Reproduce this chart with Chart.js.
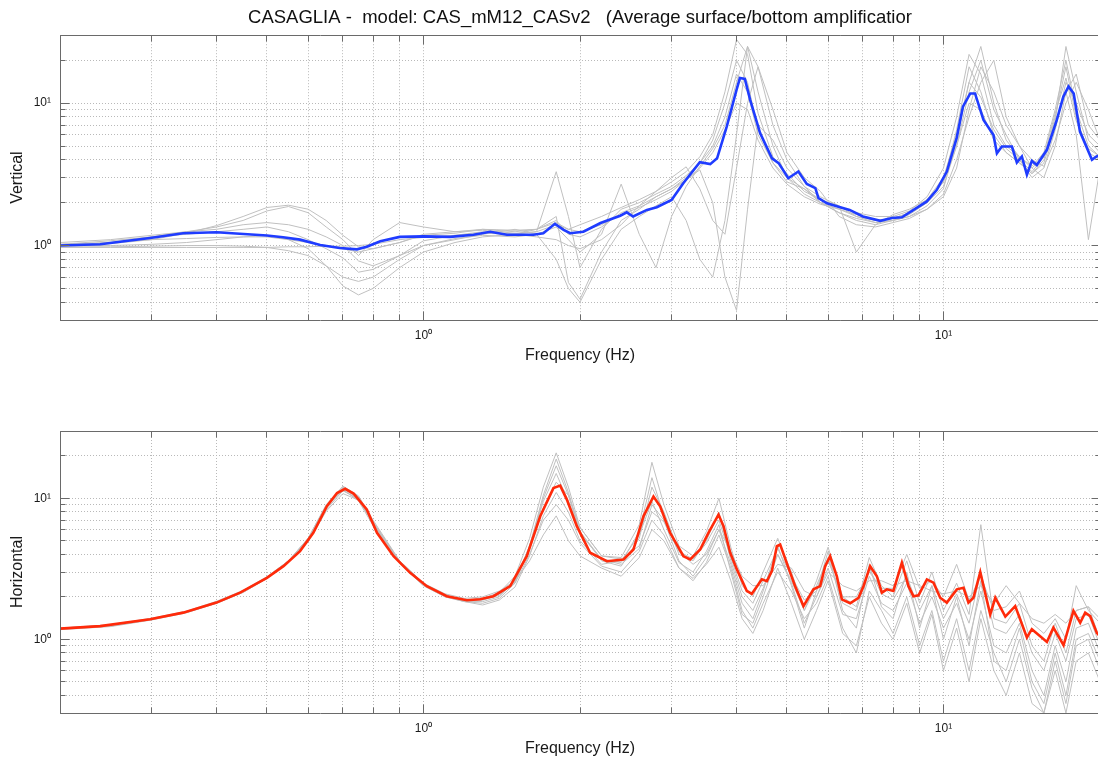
<!DOCTYPE html>
<html>
<head>
<meta charset="utf-8">
<title>CASAGLIA - surface/bottom amplification</title>
<script src="https://cdn.jsdelivr.net/npm/chart.js@4/dist/chart.umd.min.js"></script>
<style>
  html, body { margin: 0; padding: 0; background: #fff; overflow: hidden; }
  .panel { position: absolute; left: 0; }
  #topPanel { top: 0; }
  #bottomPanel { top: 395px; }
</style>
</head>
<body>
<div class="panel" id="topPanel"><canvas id="vertical" width="1102" height="370"></canvas></div>
<div class="panel" id="bottomPanel"><canvas id="horizontal" width="1102" height="368"></canvas></div>
<script>
const chartTitle = 'CASAGLIA -  model: CAS_mM12_CASv2   (Average surface/bottom amplificatior';

// tick labels on the decades
const decadeValues = [1, 10];
const decadeText = ['10\u2070', '10\u00B9'];

/* ------ VERTICAL ------ */

// average vertical amplification
const vertFreq = [0.2, 0.239, 0.298, 0.345, 0.40, 0.50, 0.537, 0.579, 0.633, 0.69, 0.745, 0.778, 0.826, 0.90, 1.0,
    1.126, 1.248, 1.344, 1.447, 1.627, 1.70, 1.79, 1.86, 1.915, 2.03, 2.19, 2.39, 2.46, 2.53, 2.69, 2.81, 3.0, 3.16,
    3.40, 3.56, 3.67, 3.83, 4.0, 4.06, 4.15, 4.25, 4.44, 4.68, 4.82, 5.03, 5.26, 5.46, 5.67, 5.75, 5.97, 6.33, 6.6,
    7.0, 7.56, 7.96, 8.32, 8.76, 9.29, 9.71, 10.15, 10.6, 10.9, 11.26, 11.5, 11.94, 12.48, 12.67, 12.95, 13.54, 13.84,
    14.15, 14.47, 14.79, 15.12, 15.81, 16.52, 17.0, 17.4, 17.8, 18.3, 19.3, 19.7, 20.0];
const vertAvg = [1.0, 1.02, 1.13, 1.22, 1.24, 1.175, 1.145, 1.10, 1.01, 0.96, 0.94, 0.98, 1.07, 1.15, 1.16,
    1.15, 1.19, 1.25, 1.19, 1.19, 1.22, 1.42, 1.29, 1.22, 1.25, 1.44, 1.62, 1.71, 1.60, 1.78, 1.86, 2.09, 2.74,
    3.85, 3.73, 4.1, 6.85, 12.4, 15.0, 14.8, 10.5, 6.16, 4.1, 3.79, 2.97, 3.31, 2.71, 2.53, 2.15, 1.98, 1.86, 1.78,
    1.60, 1.49, 1.56, 1.58, 1.78, 2.04, 2.46, 3.31, 5.68, 9.44, 11.7, 11.7, 7.62, 5.98, 4.45, 4.96, 4.96, 3.83,
    4.22, 3.14, 3.93, 3.68, 4.70, 7.62, 11.1, 13.1, 11.7, 6.31, 4.0, 4.22, 4.3];

// single simulations, all on one frequency axis
const vertSiteFreq = [0.2, 0.25, 0.3, 0.35, 0.4, 0.45, 0.5, 0.55, 0.6, 0.65, 0.7, 0.75, 0.8, 0.9, 1.0, 1.15, 1.3,
    1.5, 1.65, 1.8, 1.9, 2.0, 2.2, 2.4, 2.6, 2.8, 3.0, 3.2, 3.4, 3.6, 3.8, 4.0, 4.2, 4.4, 4.7, 5.0, 5.4, 5.8, 6.3,
    6.8, 7.4, 8.0, 8.6, 9.3, 10.0, 10.6, 11.2, 11.8, 12.5, 13.2, 14.0, 14.8, 15.6, 16.4, 17.2, 18.0, 19.0, 20.0];
const vertSite1 = [1.00, 1.03, 1.10, 1.22, 1.38, 1.60, 1.85, 1.92, 1.80, 1.50, 1.18, 0.98, 0.95, 1.05, 1.18, 1.22,
    1.30, 1.25, 1.30, 1.45, 1.30, 1.40, 1.60, 1.85, 2.10, 2.40, 2.80, 3.30, 4.20, 6.00, 12.0, 28.0, 22.0, 8.50, 4.20,
    3.20, 2.40, 2.10, 1.85, 1.70, 1.60, 1.60, 1.75, 2.20, 3.50, 8.00, 22.0, 16.0, 7.00, 5.00, 4.20, 3.60, 4.50, 9.00,
    20.0, 9.00, 5.00, 4.20];
const vertSite2 = [1.02, 1.05, 1.15, 1.25, 1.35, 1.50, 1.75, 1.88, 1.70, 1.35, 1.10, 0.85, 1.10, 1.45, 1.35, 1.25,
    1.28, 1.22, 1.25, 3.30, 1.60, 0.70, 1.30, 1.80, 2.00, 2.30, 2.60, 3.10, 3.80, 5.50, 10.0, 20.0, 14.0, 6.50, 3.80,
    2.80, 2.50, 2.00, 1.80, 1.65, 1.50, 1.55, 1.70, 2.00, 2.80, 6.50, 18.0, 12.0, 6.00, 4.50, 3.80, 3.20, 4.00, 8.00,
    18.0, 8.00, 4.50, 4.00];
const vertSite3 = [1.00, 1.00, 1.02, 1.05, 1.10, 1.15, 1.18, 1.10, 0.95, 0.72, 0.52, 0.45, 0.50, 0.70, 0.90, 1.05,
    1.15, 1.20, 1.30, 1.60, 0.55, 0.42, 0.90, 1.50, 1.80, 2.20, 2.50, 2.90, 3.40, 2.00, 0.60, 0.35, 1.80, 7.00, 5.50,
    3.50, 2.60, 2.20, 1.90, 1.60, 1.45, 1.50, 1.65, 2.00, 2.60, 5.00, 12.0, 20.0, 9.00, 6.00, 4.00, 3.00, 3.50, 6.50,
    14.0, 10.0, 6.00, 5.00];
const vertSite4 = [0.98, 0.98, 0.99, 1.00, 1.00, 0.99, 0.97, 0.92, 0.85, 0.72, 0.60, 0.56, 0.60, 0.80, 1.00, 1.12,
    1.18, 1.15, 1.20, 1.35, 1.10, 0.90, 1.20, 2.70, 1.20, 0.70, 1.60, 2.60, 3.60, 4.80, 7.00, 14.0, 25.0, 12.0, 5.00,
    3.00, 2.30, 2.00, 1.70, 1.55, 1.45, 1.50, 1.60, 1.90, 2.50, 5.50, 14.0, 25.0, 10.0, 5.50, 4.20, 3.50, 4.20, 7.50,
    25.0, 12.0, 5.50, 4.50];
const vertSite5 = [1.05, 1.10, 1.18, 1.25, 1.30, 1.40, 1.45, 1.40, 1.30, 1.15, 1.00, 0.78, 0.72, 0.85, 1.08, 1.18,
    1.25, 1.20, 1.15, 1.10, 1.00, 0.95, 1.10, 1.40, 1.90, 2.40, 3.00, 3.57, 2.50, 1.50, 1.20, 3.50, 10.0, 18.0, 9.00,
    4.50, 3.00, 2.40, 1.60, 1.40, 1.35, 1.45, 1.55, 1.80, 2.30, 4.00, 8.00, 14.0, 20.0, 8.00, 5.00, 3.50, 3.00, 5.00,
    12.0, 16.0, 7.00, 5.50];
const vertSite6 = [0.97, 0.97, 0.97, 0.97, 0.97, 0.97, 0.97, 0.98, 0.98, 0.99, 0.99, 1.00, 1.02, 1.10, 1.14, 1.18,
    1.22, 1.20, 1.25, 1.40, 1.30, 1.25, 1.40, 1.65, 1.85, 2.10, 2.40, 2.90, 3.50, 4.50, 6.50, 10.0, 9.00, 5.50, 3.50,
    2.70, 2.20, 1.95, 1.80, 1.60, 1.50, 1.55, 1.70, 2.10, 3.00, 6.00, 14.0, 11.0, 6.50, 4.80, 4.00, 3.30, 4.20, 8.50,
    15.0, 7.50, 4.80, 4.20];
const vertSite7 = [1.02, 1.08, 1.15, 1.20, 1.25, 1.30, 1.35, 1.25, 1.10, 0.95, 0.82, 0.65, 0.68, 0.85, 1.00, 1.10,
    1.20, 1.30, 1.20, 0.80, 0.50, 0.40, 0.80, 1.30, 1.60, 1.90, 2.20, 1.50, 0.80, 0.60, 1.50, 6.00, 25.0, 18.0, 7.00,
    4.00, 2.60, 2.00, 1.70, 1.50, 1.40, 1.50, 1.60, 1.80, 2.20, 3.50, 9.00, 18.0, 12.0, 7.00, 5.00, 4.00, 3.60, 5.50,
    10.0, 14.0, 9.00, 5.50];
const vertSite8 = [1.00, 1.05, 1.10, 1.12, 1.14, 1.15, 1.15, 1.10, 1.05, 1.00, 0.95, 0.90, 0.95, 1.05, 1.20, 1.25,
    1.30, 1.28, 1.30, 1.50, 1.20, 1.15, 1.35, 1.70, 1.90, 2.20, 2.50, 3.00, 3.80, 5.00, 8.00, 16.0, 12.0, 6.00, 3.80,
    3.00, 2.50, 2.10, 1.90, 0.90, 1.40, 1.65, 1.80, 2.10, 2.80, 5.00, 10.0, 9.00, 5.50, 4.50, 3.80, 3.20, 3.80, 7.00,
    12.0, 6.00, 1.10, 3.50];

/* ------ HORIZONTAL ------ */

const horFreq = [0.2, 0.239, 0.298, 0.345, 0.40, 0.444, 0.50, 0.538, 0.579, 0.614, 0.652, 0.682, 0.707, 0.734, 0.778,
    0.814, 0.876, 0.943, 1.015, 1.109, 1.212, 1.285, 1.363, 1.468, 1.58, 1.677, 1.778, 1.832, 1.887, 1.972, 2.092,
    2.253, 2.425, 2.534, 2.649, 2.769, 2.852, 2.981, 3.162, 3.258, 3.405, 3.532, 3.693, 3.776, 3.889, 4.006, 4.187,
    4.281, 4.475, 4.575, 4.677, 4.782, 4.853, 5.034, 5.185, 5.38, 5.623, 5.793, 5.923, 6.054, 6.237, 6.377, 6.615,
    6.864, 7.018, 7.228, 7.446, 7.612, 7.784, 8.012, 8.318, 8.565, 8.756, 8.953, 9.293, 9.567, 9.856, 10.15, 10.61,
    10.93, 11.17, 11.42, 11.77, 12.30, 12.58, 13.15, 13.74, 14.47, 14.79, 15.81, 16.27, 17.02, 17.78, 18.32, 18.73,
    19.15, 19.72, 20.0];
const horAvg = [1.19, 1.24, 1.385, 1.545, 1.82, 2.14, 2.73, 3.30, 4.22, 5.69, 8.78, 10.9, 11.67, 10.8, 8.33,
    5.69, 3.88, 2.96, 2.38, 2.02, 1.89, 1.92, 2.02, 2.38, 3.88, 7.45, 11.8, 12.3, 9.79, 6.34, 4.11,
    3.58, 3.68, 4.33, 7.45, 10.3, 8.78, 5.69, 3.88, 3.68, 4.33, 5.69, 7.66, 6.34, 4.11, 3.13, 2.20,
    2.10, 2.66, 2.58, 3.04, 4.57, 4.70, 3.21, 2.38, 1.72, 2.26, 2.38, 3.30, 3.88, 2.80, 1.92, 1.80,
    1.97, 2.38, 3.30, 2.80, 2.14, 2.26, 2.20, 3.49, 2.38, 2.02, 2.05, 2.66, 2.52, 1.97, 1.82, 2.26,
    2.32, 1.82, 1.97, 2.99, 1.50, 1.97, 1.45, 1.72, 1.03, 1.18, 0.957, 1.21, 0.907, 1.59, 1.31, 1.545,
    1.46, 1.11, 1.05];

const horSiteFreq = [0.2, 0.25, 0.3, 0.35, 0.4, 0.45, 0.5, 0.55, 0.6, 0.65, 0.7, 0.75, 0.8, 0.9, 1.0, 1.1, 1.2, 1.3,
    1.4, 1.5, 1.6, 1.7, 1.8, 1.9, 2.0, 2.2, 2.4, 2.6, 2.75, 2.9, 3.1, 3.3, 3.5, 3.7, 3.9, 4.1, 4.3, 4.5, 4.8, 5.1,
    5.4, 5.7, 6.0, 6.4, 6.8, 7.2, 7.6, 8.0, 8.5, 9.0, 9.5, 10.0, 10.6, 11.2, 11.8, 12.5, 13.2, 14.0, 14.8, 15.6,
    16.4, 17.2, 18.0, 19.0, 20.0];
const horSite1 = [1.18, 1.24, 1.38, 1.55, 1.80, 2.15, 2.70, 3.50, 5.00, 8.50, 12.0, 10.3, 6.80, 3.55, 2.45, 2.05,
    1.90, 1.95, 2.15, 2.80, 5.20, 12.0, 21.0, 12.0, 6.20, 3.90, 3.80, 6.50, 18.0, 9.00, 4.60, 3.90, 5.80, 10.0, 4.50,
    2.40, 2.00, 3.00, 5.20, 3.00, 1.60, 2.60, 4.50, 2.00, 1.70, 3.80, 2.40, 2.00, 3.60, 1.80, 3.00, 1.60, 2.50, 1.50,
    6.50, 1.40, 1.30, 1.80, 0.90, 0.70, 1.30, 0.80, 1.60, 1.70, 1.00];
const horSite2 = [1.20, 1.26, 1.40, 1.57, 1.84, 2.20, 2.76, 3.60, 5.20, 8.90, 11.5, 9.60, 6.40, 3.45, 2.40, 2.00,
    1.85, 1.85, 2.00, 2.60, 4.50, 10.0, 17.0, 10.5, 5.60, 3.70, 3.50, 5.80, 14.0, 7.50, 4.00, 3.60, 5.00, 8.00, 3.60,
    2.00, 1.60, 2.30, 4.00, 2.50, 1.30, 2.00, 3.20, 1.50, 1.40, 2.80, 1.80, 1.60, 2.50, 1.30, 2.00, 1.20, 1.80, 1.00,
    2.20, 0.90, 0.80, 1.30, 0.60, 0.40, 0.90, 0.50, 1.20, 1.30, 0.80];
const horSite3 = [1.19, 1.25, 1.39, 1.56, 1.83, 2.17, 2.72, 3.50, 4.90, 8.10, 10.8, 9.70, 6.80, 3.60, 2.50, 2.10,
    1.95, 2.00, 2.20, 2.60, 3.60, 5.50, 7.50, 5.00, 3.90, 3.20, 2.80, 3.80, 6.00, 5.00, 3.20, 2.60, 3.50, 5.50, 3.20,
    1.60, 1.20, 1.80, 3.00, 2.20, 1.40, 1.80, 2.80, 1.20, 0.80, 2.20, 1.60, 1.10, 2.00, 0.90, 1.60, 0.70, 1.40, 0.60,
    1.60, 0.80, 0.50, 1.00, 0.45, 0.30, 0.70, 0.35, 0.90, 1.00, 0.60];
const horSite4 = [1.17, 1.23, 1.37, 1.54, 1.80, 2.15, 2.70, 3.55, 5.10, 8.70, 11.7, 10.0, 6.60, 3.45, 2.40, 2.00,
    1.85, 1.80, 1.95, 2.50, 4.60, 9.50, 15.0, 9.50, 5.80, 3.60, 3.30, 5.20, 12.0, 8.00, 4.20, 3.70, 4.80, 7.00, 3.80,
    2.20, 1.80, 2.60, 4.40, 2.80, 1.90, 2.20, 3.60, 2.00, 2.00, 3.00, 2.30, 2.30, 4.00, 2.30, 2.60, 2.00, 3.40, 1.90,
    2.80, 1.60, 1.70, 2.20, 1.30, 1.10, 1.40, 1.00, 2.40, 1.60, 1.30];
const horSite5 = [1.20, 1.27, 1.41, 1.58, 1.86, 2.22, 2.78, 3.60, 5.20, 9.00, 12.2, 10.4, 7.00, 3.60, 2.50, 2.05,
    1.85, 1.75, 1.90, 2.35, 3.90, 7.50, 11.0, 8.00, 5.00, 3.40, 3.60, 5.50, 9.50, 6.00, 3.50, 3.00, 4.20, 6.50, 3.00,
    1.50, 1.30, 2.00, 4.00, 2.60, 1.60, 2.40, 3.80, 1.80, 1.60, 3.20, 2.10, 1.90, 2.80, 1.60, 2.40, 1.40, 2.10, 1.30,
    3.00, 1.20, 1.10, 1.50, 0.80, 0.60, 1.10, 0.70, 1.40, 1.50, 0.90];
const horSite6 = [1.19, 1.25, 1.39, 1.56, 1.82, 2.18, 2.74, 3.55, 5.10, 8.60, 11.4, 9.80, 6.60, 3.50, 2.45, 2.05,
    1.90, 1.90, 2.05, 2.55, 4.40, 8.50, 13.0, 10.5, 6.20, 3.90, 3.70, 4.60, 8.00, 6.80, 4.20, 3.40, 4.00, 6.00, 4.20,
    2.80, 2.40, 2.40, 3.40, 3.20, 2.20, 2.00, 3.00, 2.40, 2.20, 2.60, 2.60, 2.40, 2.60, 2.40, 2.20, 2.10, 2.20, 2.00,
    2.40, 1.80, 2.40, 1.80, 1.40, 1.30, 1.50, 1.30, 1.60, 1.70, 1.40];
const horSite7 = [1.18, 1.24, 1.38, 1.55, 1.81, 2.16, 2.71, 3.52, 5.00, 8.30, 11.3, 9.90, 6.70, 3.50, 2.45, 2.05,
    1.90, 1.90, 2.10, 2.60, 4.60, 10.5, 19.0, 11.0, 5.80, 3.70, 3.40, 4.40, 9.00, 7.00, 3.60, 2.80, 3.80, 6.00, 3.40,
    1.80, 1.40, 2.20, 4.60, 2.40, 1.20, 2.20, 4.20, 1.60, 1.20, 3.40, 1.70, 1.40, 3.00, 1.20, 2.40, 1.00, 2.00, 0.90,
    2.60, 0.70, 0.60, 1.20, 0.50, 0.35, 0.80, 0.40, 1.00, 1.10, 0.70];
const horSite8 = [1.19, 1.26, 1.40, 1.57, 1.83, 2.19, 2.75, 3.58, 5.15, 8.70, 11.7, 10.1, 6.70, 3.50, 2.45, 2.05,
    1.88, 1.92, 2.10, 2.50, 4.00, 7.00, 9.00, 7.00, 4.80, 3.30, 3.00, 4.20, 7.00, 5.50, 3.20, 2.70, 3.40, 4.50, 2.60,
    1.40, 1.10, 1.60, 3.20, 1.80, 1.00, 1.60, 2.60, 1.10, 0.90, 2.00, 1.30, 1.00, 1.80, 0.80, 1.50, 0.60, 1.20, 0.50,
    1.40, 0.60, 0.40, 0.80, 0.35, 0.30, 0.60, 0.30, 0.70, 0.80, 0.50];

Chart.defaults.font.family = '"Liberation Sans", Arial, Helvetica, sans-serif';
Chart.defaults.color = '#1a1a1a';

const gridColor = '#b9b9b9';
const siteColor = '#c0c0c0';

function isDecade(v) {
    const e = Math.log10(v);
    return Math.abs(e - Math.round(e)) < 1e-9;
}

// drop the 1.5 / 15 steps the log scale adds, keep 1..9 x 10^n
function keepIntegerMantissa(scale) {
    scale.ticks = scale.ticks.filter(function (t) {
        const m = t.value / Math.pow(10, Math.floor(Math.log10(t.value) + 1e-9));
        return Math.abs(m - Math.round(m)) < 1e-6;
    });
}

function decadeLabel(value) {
    for (let i = 0; i < decadeValues.length; i++) {
        if (Math.abs(value - decadeValues[i]) < 1e-9) {
            return decadeText[i];
        }
    }
    return '';
}

function toPoints(freqs, values) {
    return freqs.map(function (f, i) { return { x: f, y: values[i] }; });
}

function siteLine(freqs, values) {
    return { data: toPoints(freqs, values), borderColor: siteColor, borderWidth: 1, pointRadius: 0, order: 1, clip: 0 };
}

function avgLine(freqs, values, color) {
    return { data: toPoints(freqs, values), borderColor: color, borderWidth: 2.6, pointRadius: 0, order: 0, clip: 0 };
}

// box round the plot with inward tick marks on all four sides
const frameTicks = {
    id: 'frameTicks',
    afterDatasetsDraw(chart) {
        const ctx = chart.ctx;
        const a = chart.chartArea;
        const xs = chart.scales.x;
        const ys = chart.scales.y;
        const align = function (p) { return Math.round(p - 0.5) + 0.5; };
        const L = align(a.left), R = align(a.right), T = align(a.top), B = align(a.bottom);
        ctx.save();
        ctx.strokeStyle = '#6a6a6a';
        ctx.lineWidth = 1;
        ctx.beginPath();
        xs.ticks.forEach(function (t) {
            const p = align(xs.getPixelForValue(t.value));
            const len = isDecade(t.value) ? 9 : 6;
            ctx.moveTo(p, B); ctx.lineTo(p, B - len);
            ctx.moveTo(p, T); ctx.lineTo(p, T + len);
        });
        ys.ticks.forEach(function (t) {
            const p = align(ys.getPixelForValue(t.value));
            const len = isDecade(t.value) ? 9 : 5;
            ctx.moveTo(L, p); ctx.lineTo(L + len, p);
            ctx.moveTo(R, p); ctx.lineTo(R - len, p);
        });
        ctx.rect(L, T, R - L, B - T);
        ctx.stroke();
        ctx.restore();
    }
};

function panelOptions(yTitle, withTitle) {
    return {
        responsive: false,
        animation: false,
        events: [],
        layout: { padding: { top: withTitle ? 0 : 36, right: 2, left: 0, bottom: 0 } },
        plugins: {
            legend: { display: false },
            tooltip: { enabled: false },
            title: {
                display: withTitle,
                text: chartTitle,
                fullSize: false,
                color: '#111',
                font: { size: 18.5, weight: 'normal' },
                padding: { top: 7, bottom: 6 }
            }
        },
        scales: {
            x: {
                type: 'logarithmic',
                min: 0.2,
                max: 20,
                afterBuildTicks: keepIntegerMantissa,
                afterFit: function (s) { s.height = 50; s.paddingLeft = 0; s.paddingRight = 0; },
                grid: { color: gridColor, lineWidth: 1, drawTicks: false },
                border: { display: false, dash: [1, 2] },
                ticks: { autoSkip: false, maxRotation: 0, padding: 8, font: { size: 12 }, callback: decadeLabel },
                title: { display: true, text: 'Frequency (Hz)', font: { size: 16 }, padding: { top: 0, bottom: 5 } }
            },
            y: {
                type: 'logarithmic',
                min: 0.3,
                max: 30,
                afterBuildTicks: keepIntegerMantissa,
                afterFit: function (s) { s.width = 60; s.paddingTop = 0; s.paddingBottom = 0; },
                grid: { color: gridColor, lineWidth: 1, drawTicks: false },
                border: { display: false, dash: [1, 2] },
                ticks: { autoSkip: false, padding: 9, font: { size: 12 }, callback: decadeLabel },
                title: { display: true, text: yTitle, font: { size: 16 }, padding: { top: 8, bottom: 0 } }
            }
        }
    };
}

const vertSites = [vertSite1, vertSite2, vertSite3, vertSite4, vertSite5, vertSite6, vertSite7, vertSite8];
const horSites = [horSite1, horSite2, horSite3, horSite4, horSite5, horSite6, horSite7, horSite8];

var verticalChart = new Chart(document.getElementById('vertical').getContext('2d'), {
    type: 'line',
    data: {
        datasets: [avgLine(vertFreq, vertAvg, '#1f3cff')]
            .concat(vertSites.map(function (s) { return siteLine(vertSiteFreq, s); }))
    },
    options: panelOptions('Vertical', true),
    plugins: [frameTicks]
});

var horizontalChart = new Chart(document.getElementById('horizontal').getContext('2d'), {
    type: 'line',
    data: {
        datasets: [avgLine(horFreq, horAvg, '#ff2a0a')]
            .concat(horSites.map(function (s) { return siteLine(horSiteFreq, s); }))
    },
    options: panelOptions('Horizontal', false),
    plugins: [frameTicks]
});
</script>
</body>
</html>
